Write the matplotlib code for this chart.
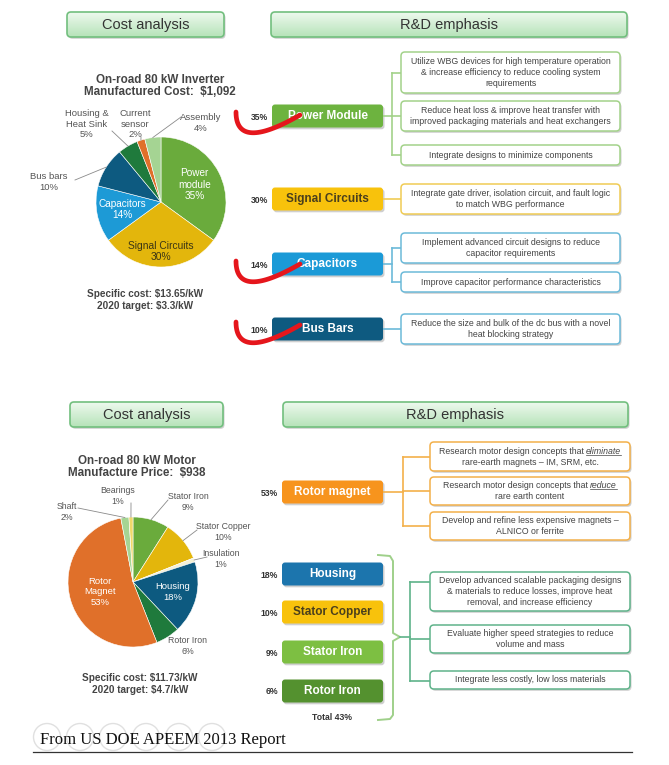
import numpy as np
import matplotlib.pyplot as plt
from matplotlib.patches import FancyBboxPatch, Circle
from matplotlib.colors import LinearSegmentedColormap

plt.rcParams['font.family'] = ['Liberation Sans', 'DejaVu Sans']

# ---- data -------------------------------------------------------------
# inverter cost split, clockwise from 12 o'clock
inv_parts = ['Power\nmodule', 'Signal Circuits', 'Capacitors', 'Bus bars',
             'Housing &\nHeat Sink', 'Current\nsensor', 'Assembly']
inv_pct = [35, 30, 14, 10, 5, 2, 4]
inv_colors = ['#6aab3c', '#e3b60c', '#1d9ad6', '#0d5a80', '#1f7a3c', '#e0702a', '#a5d493']

# motor cost split, clockwise from 12 o'clock
motor_parts = ['Stator Iron', 'Stator Copper', 'Insulation', 'Housing',
               'Rotor Iron', 'Rotor\nMagnet', 'Shaft', 'Bearings']
motor_pct = [9, 10, 1, 18, 6, 53, 2, 1]
motor_colors = ['#6aab3c', '#e3b60c', '#f3f0d6', '#0d5a80', '#1f7a3c', '#e0702a', '#a5d493', '#f0d86a']

inv_rd = ['Power Module', 'Signal Circuits', 'Capacitors', 'Bus Bars']
inv_rd_pct = ['35%', '30%', '14%', '10%']
inv_notes = [
    ['Utilize WBG devices for high temperature operation\n& increase efficiency to reduce cooling system\nrequirements',
     'Reduce heat loss & improve heat transfer with\nimproved packaging materials and heat exchangers',
     'Integrate designs to minimize components'],
    ['Integrate gate driver, isolation circuit, and fault logic\nto match WBG performance'],
    ['Implement advanced circuit designs to reduce\ncapacitor requirements',
     'Improve capacitor performance characteristics'],
    ['Reduce the size and bulk of the dc bus with a novel\nheat blocking strategy'],
]

motor_rd = ['Rotor magnet', 'Housing', 'Stator Copper', 'Stator Iron', 'Rotor Iron']
motor_rd_pct = ['53%', '18%', '10%', '9%', '6%']
magnet_notes = [
    [('Research motor design concepts that ', 'eliminate'), ('rare-earth magnets \u2013 IM, SRM, etc.', None)],
    [('Research motor design concepts that ', 'reduce'), ('rare earth content', None)],
    [('Develop and refine less expensive magnets \u2013', None), ('ALNICO or ferrite', None)],
]
other_notes = ['Develop advanced scalable packaging designs\n& materials to reduce losses, improve heat\nremoval, and increase efficiency',
               'Evaluate higher speed strategies to reduce\nvolume and mass',
               'Integrate less costly, low loss materials']
other_total = 'Total 43%'

# ---- canvas in pixel units --------------------------------------------
fig = plt.figure(figsize=(6.69, 7.65), dpi=100)
ax = fig.add_axes([0, 0, 1, 1])
renderer = fig.canvas.get_renderer()

TXT = '#444444'
NFS = 6.3   # note font size


def rbox(x0, y0, x1, y1, fc, ec, lw=1.0, r=4, shadow=True, z=2):
    if shadow:
        ax.add_patch(FancyBboxPatch((x0 + 1.5, y0 + 1.8), x1 - x0, y1 - y0,
                                    boxstyle=f'round,pad=0,rounding_size={r}',
                                    fc='#cfcfcf', ec='none', zorder=z - 0.5))
    p = FancyBboxPatch((x0, y0), x1 - x0, y1 - y0,
                       boxstyle=f'round,pad=0,rounding_size={r}',
                       fc=fc, ec=ec, lw=lw, zorder=z)
    ax.add_patch(p)
    return p


def header(x0, y0, x1, y1, title):
    p = rbox(x0, y0, x1, y1, 'none', '#72bf7e', lw=1.2, r=4)
    grad = np.linspace(0, 1, 50)[:, None]
    cm = LinearSegmentedColormap.from_list('g', ['#eef9ee', '#b6e3b9'])
    im = ax.imshow(grad, cmap=cm, extent=(x0, x1, y1, y0), aspect='auto', zorder=1.8)
    im.set_clip_path(p)
    ax.text((x0 + x1) / 2, (y0 + y1) / 2 + 0.5, title, ha='center', va='center',
            fontsize=10.5, color='#333333', zorder=3)


def label_box(x0, xc_pct, yc, name, pct, fc, tc='white'):
    rbox(x0, yc - 11.5, 383, yc + 11.5, fc, 'none', r=3)
    ax.text((x0 + 383) / 2, yc, name, ha='center', va='center', fontsize=8.5,
            fontweight='bold', color=tc, zorder=3)
    ax.text(xc_pct, yc + 1, pct, ha='right', va='center', fontsize=6.2,
            fontweight='bold', color='#333333', zorder=3)


def note_box(x0, x1, y0, y1, ec, text):
    rbox(x0, y0, x1, y1, 'white', ec, lw=1.1, r=4)
    if text is not None:
        ax.text((x0 + x1) / 2, (y0 + y1) / 2, text, ha='center', va='center',
                fontsize=NFS, color=TXT, linespacing=1.3, zorder=3)


def width_of(s, **kw):
    t = ax.text(0, 0, s, fontsize=NFS, **kw)
    w = t.get_window_extent(renderer).width
    t.remove()
    return w


def rich_lines(xc, yc, lines):
    ys = [yc - 5.5, yc + 5.5]
    sp = width_of('a a') - width_of('aa')
    for (plain, word), y in zip(lines, ys):
        if word is None:
            ax.text(xc, y, plain, ha='center', va='center', fontsize=NFS, color=TXT, zorder=3)
            continue
        w1 = width_of(plain.strip())
        w2 = width_of(word, style='italic')
        start = xc - (w1 + sp + w2) / 2
        ax.text(start, y, plain.strip(), ha='left', va='center', fontsize=NFS, color=TXT, zorder=3)
        ax.text(start + w1 + sp, y, word, ha='left', va='center', fontsize=NFS,
                style='italic', color=TXT, zorder=3)
        ax.plot([start + w1 + sp, start + w1 + sp + w2], [y + 3.8, y + 3.8], color=TXT, lw=0.5, zorder=3)


def pie(vals, colors, cx, cy, r):
    ax.pie(vals, colors=colors, startangle=-90, counterclock=True, center=(cx, cy),
           radius=r, wedgeprops=dict(edgecolor='white', linewidth=0.4))
    v = np.array(vals, dtype=float)
    mids = np.deg2rad(-90 + 360 * (np.cumsum(v) - v / 2) / v.sum())
    return mids


def inside(cx, cy, r, m, rf, s, color='white', fs=7.2):
    ax.text(cx + rf * r * np.cos(m), cy + rf * r * np.sin(m), s, ha='center', va='center',
            fontsize=fs, color=color, linespacing=1.2, zorder=4)


def outside(cx, cy, r, m, tx, ty, s, lx=None, ly=None, ha='center', fs=6.8):
    ax.text(tx, ty, s, ha=ha, va='center', fontsize=fs, color='#555555',
            linespacing=1.15, zorder=4)
    if lx is not None:
        ax.plot([lx, cx + r * np.cos(m)], [ly, cy + r * np.sin(m)], color='#8a8a8a', lw=0.6, zorder=4)


# ---- top half: inverter ----------------------------------------------
header(67, 12, 224, 37, 'Cost analysis')
header(271, 12, 627, 37, 'R&D emphasis')

ax.text(160, 86, 'On-road 80 kW Inverter\nManufactured Cost:  $1,092', ha='center', va='center',
        fontsize=8.4, fontweight='bold', color='#444444', linespacing=1.1)

cx, cy, r = 161, 202, 65
m = pie(inv_pct, inv_colors, cx, cy, r)
inside(cx, cy, r, m[0], 0.58, f'{inv_parts[0]}\n{inv_pct[0]}%')
inside(cx, cy, r, m[1], 0.76, f'{inv_parts[1]}\n{inv_pct[1]}%', color='#3a3515', fs=7.4)
inside(cx, cy, r, m[2], 0.6, f'{inv_parts[2]}\n{inv_pct[2]}%')
outside(cx, cy, r, m[3], 49, 182, f'{inv_parts[3]}\n{inv_pct[3]}%', 75, 180)
outside(cx, cy, r, m[4], 87, 124, f'{inv_parts[4]}\n{inv_pct[4]}%', 112, 131)
outside(cx, cy, r, m[5], 135, 124, f'{inv_parts[5]}\n{inv_pct[5]}%', 141, 137)
outside(cx, cy, r, m[6], 201, 123, f'{inv_parts[6]}\n{inv_pct[6]}%', 181, 117)

ax.text(145, 300, 'Specific cost: $13.65/kW\n2020 target: $3.3/kW', ha='center', va='center',
        fontsize=7.2, fontweight='bold', color='#444444', linespacing=1.15)

inv_fc = ['#6db33f', '#f8c20c', '#1b9ad7', '#0e5a80']
inv_tc = ['white', '#4a3f1c', 'white', 'white']
inv_ec = ['#a3d28a', '#f0cc55', '#6cbad9', '#6cbad9']
inv_y = [116, 199, 264, 329]
inv_boxes = [[(52, 93), (101, 131), (145, 165)], [(184, 214)], [(233, 263), (272, 292)], [(314, 344)]]
for i in range(len(inv_rd)):
    label_box(272, 268, inv_y[i], inv_rd[i], inv_rd_pct[i], inv_fc[i], inv_tc[i])
    bx = inv_boxes[i]
    cys = [(a + b) / 2 for a, b in bx]
    if len(bx) > 1:
        ax.plot([383, 392], [inv_y[i]] * 2, color=inv_ec[i], lw=1.2, zorder=1.5)
        ax.plot([392, 392], [min(cys), max(cys)], color=inv_ec[i], lw=1.2, zorder=1.5)
        for c in cys:
            ax.plot([392, 401], [c, c], color=inv_ec[i], lw=1.2, zorder=1.5)
    else:
        ax.plot([383, 401], [inv_y[i]] * 2, color=inv_ec[i], lw=1.2, zorder=1.5)
    for (a, b), t in zip(bx, inv_notes[i]):
        note_box(401, 620, a, b, inv_ec[i], t)

# red check marks
for yy in [112, 261, 322]:
    t = np.linspace(0, 1, 40)[:, None]
    P0, C, P2 = np.array([236, yy]), np.array([236, yy + 40]), np.array([300, yy + 3])
    pts = (1 - t) ** 2 * P0 + 2 * (1 - t) * t * C + t ** 2 * P2
    ax.plot(pts[:, 0], pts[:, 1], color='#e5161c', lw=3.4, solid_capstyle='round', zorder=5)

# ---- bottom half: motor -----------------------------------------------
header(70, 402, 223, 427, 'Cost analysis')
header(283, 402, 628, 427, 'R&D emphasis')

ax.text(137, 467, 'On-road 80 kW Motor\nManufacture Price:  $938', ha='center', va='center',
        fontsize=8.4, fontweight='bold', color='#444444', linespacing=1.1)

cx, cy, r = 133, 582, 65
m = pie(motor_pct, motor_colors, cx, cy, r)
outside(cx, cy, r, m[0], 188, 502, f'{motor_parts[0]}\n{motor_pct[0]}%', 168, 500, fs=6.3)
outside(cx, cy, r, m[1], 223, 532, f'{motor_parts[1]}\n{motor_pct[1]}%', 197, 530, fs=6.3)
outside(cx, cy, r, m[2], 221, 559, f'{motor_parts[2]}\n{motor_pct[2]}%', 207, 557, fs=6.3)
inside(cx, cy, r, m[3], 0.63, f'{motor_parts[3]}\n{motor_pct[3]}%', fs=6.8)
outside(cx, cy, r, m[4], 188, 646, f'{motor_parts[4]}\n{motor_pct[4]}%', fs=6.3)
inside(cx, cy, r, m[5], 0.53, f'{motor_parts[5]}\n{motor_pct[5]}%', fs=6.8)
outside(cx, cy, r, m[6], 67, 512, f'{motor_parts[6]}\n{motor_pct[6]}%', 78, 508, fs=6.3)
outside(cx, cy, r, m[7], 118, 496, f'{motor_parts[7]}\n{motor_pct[7]}%', 131, 503, fs=6.3)

ax.text(140, 684, 'Specific cost: $11.73/kW\n2020 target: $4.7/kW', ha='center', va='center',
        fontsize=7.2, fontweight='bold', color='#444444', linespacing=1.15)

motor_fc = ['#f7941d', '#1c75ad', '#f8c20c', '#7dbf42', '#54912f']
motor_tc = ['white', 'white', '#4a3f1c', 'white', 'white']
motor_y = [492, 574, 612, 652, 691]
for i in range(len(motor_rd)):
    label_box(282, 278, motor_y[i], motor_rd[i], motor_rd_pct[i], motor_fc[i], motor_tc[i])

# rotor magnet notes
orange = '#f3b04a'
mag_boxes = [(442, 471), (477, 505), (512, 540)]
cys = [(a + b) / 2 for a, b in mag_boxes]
ax.plot([383, 403], [492, 492], color=orange, lw=1.2, zorder=1.5)
ax.plot([403, 403], [cys[0], cys[-1]], color=orange, lw=1.2, zorder=1.5)
for (a, b), lines in zip(mag_boxes, magnet_notes):
    ax.plot([403, 430], [(a + b) / 2] * 2, color=orange, lw=1.2, zorder=1.5)
    note_box(430, 630, a, b, orange, None)
    rich_lines(530, (a + b) / 2, lines)

# brace for the remaining parts
green = '#9fd08a'
bx = [378, 390, 393, 393, 400, 393, 393, 390, 378]
by = [555, 556, 561, 633, 637, 641, 715, 719, 720]
ax.plot(bx, by, color=green, lw=1.4, zorder=1.5)
teal = '#5fb38a'
oth_boxes = [(572, 611), (625, 653), (671, 689)]
hooks = [582, 639, 681]
ax.plot([400, 410], [637, 637], color=teal, lw=1.2, zorder=1.5)
ax.plot([410, 410], [hooks[0], hooks[-1]], color=teal, lw=1.2, zorder=1.5)
for (a, b), h, t in zip(oth_boxes, hooks, other_notes):
    ax.plot([410, 430], [h, h], color=teal, lw=1.2, zorder=1.5)
    note_box(430, 630, a, b, teal, t)
ax.text(332, 718, other_total, ha='center', va='center', fontsize=6.2, fontweight='bold', color='#333333')

# ---- footer ------------------------------------------------------------
for i in range(6):
    ax.add_patch(Circle((47 + 33 * i, 737), 13.5, fill=False, ec='#e0e0e0', lw=1, zorder=0.5))
ax.text(40, 740, 'From US DOE APEEM 2013 Report', ha='left', va='center',
        fontsize=12, family='Liberation Serif', color='#111111')
ax.plot([33, 632], [752, 752], color='#333333', lw=0.9)

ax.set_xlim(0, 669)
ax.set_ylim(765, 0)
ax.set_aspect('auto')
ax.axis('off')
fig.savefig('out.png', dpi=100, facecolor='white')
